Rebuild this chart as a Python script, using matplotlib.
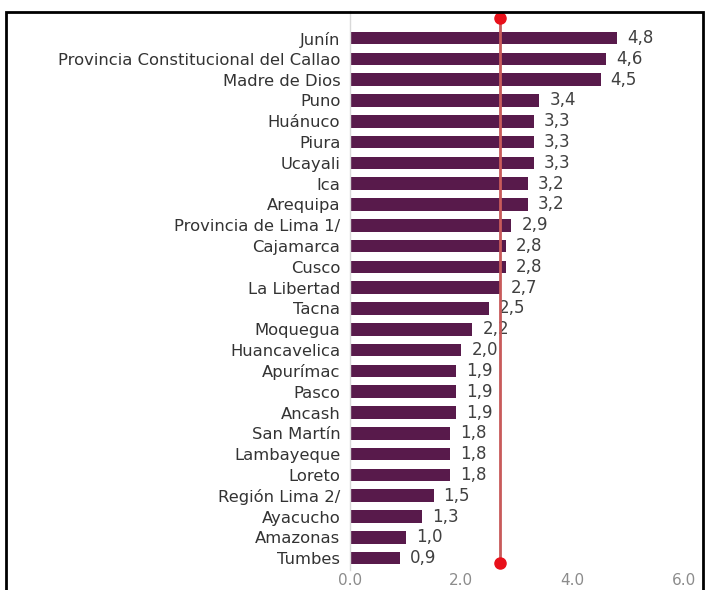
import matplotlib.pyplot as plt
from matplotlib.patches import Rectangle

regions = [
    "Junín", "Provincia Constitucional del Callao", "Madre de Dios", "Puno",
    "Huánuco", "Piura", "Ucayali", "Ica", "Arequipa", "Provincia de Lima 1/",
    "Cajamarca", "Cusco", "La Libertad", "Tacna", "Moquegua", "Huancavelica",
    "Apurímac", "Pasco", "Ancash", "San Martín", "Lambayeque", "Loreto",
    "Región Lima 2/", "Ayacucho", "Amazonas", "Tumbes",
]
values = [4.8, 4.6, 4.5, 3.4, 3.3, 3.3, 3.3, 3.2, 3.2, 2.9, 2.8, 2.8, 2.7,
          2.5, 2.2, 2.0, 1.9, 1.9, 1.9, 1.8, 1.8, 1.8, 1.5, 1.3, 1.0, 0.9]
national = 2.7
xticks = [0.0, 2.0, 4.0, 6.0]

plt.rcParams["font.family"] = ["DejaVu Sans"]

W, H = 705, 590
fig = plt.figure(figsize=(W / 100, H / 100), dpi=100)
# axes placed in pixel terms
left, right, top, bottom = 350, 684, 11, 570
ax = fig.add_axes([left / W, 1 - bottom / H, (right - left) / W, (bottom - top) / H])

y = list(range(len(regions)))
ax.barh(y, values, height=0.6, color="#581a4b")
for yi, v in zip(y, values):
    ax.text(v + 0.18, yi, f"{v:.1f}".replace(".", ","), va="center", ha="left",
            fontsize=12, color="#404040")

ax.set_ylim(25.57, -1.3)
ax.set_xlim(0, 6)
ax.set_yticks(y)
ax.set_yticklabels(regions, fontsize=11.8, color="#333333")
ax.set_xticks(xticks)
ax.set_xticklabels([f"{t:.1f}" for t in xticks], fontsize=11, color="#8c8c8c")
ax.tick_params(length=0)
ax.tick_params(axis="y", pad=7)
ax.tick_params(axis="x", pad=2)
for s in ["top", "right", "bottom"]:
    ax.spines[s].set_visible(False)
ax.spines["left"].set_color("#d9d9d9")
ax.spines["left"].set_linewidth(1)

# national average line with dots
ax.plot([national, national], [-0.96, 25.24], color="#c85a5a", lw=2, zorder=3)
ax.plot([national, national], [-0.96, 25.24], "o", color="#e8101a", ms=8, zorder=4)

# outer frame
fig.patches.append(Rectangle((6 / W, -0.05), (703 - 6) / W, (H - 12) / H + 0.05,
                             transform=fig.transFigure, fill=False,
                             edgecolor="black", lw=2))

fig.savefig("out.png", dpi=100)
